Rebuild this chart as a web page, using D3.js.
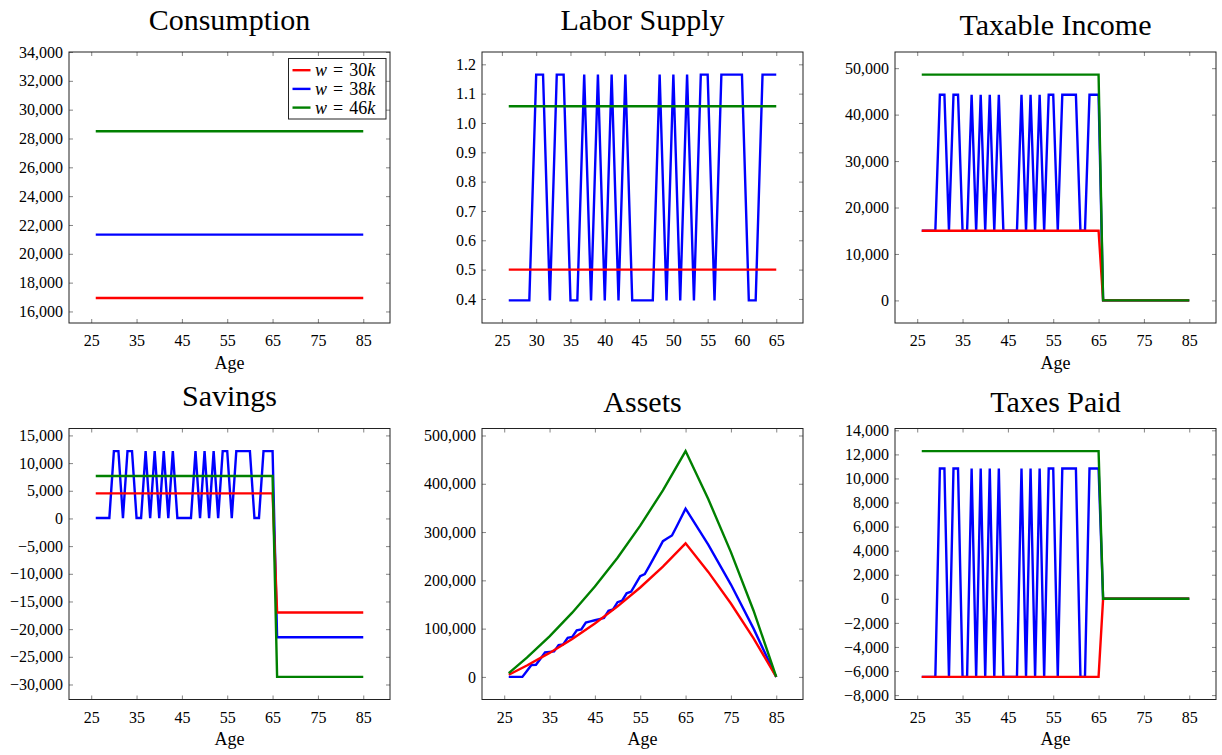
<!DOCTYPE html>
<html>
<head>
<meta charset="utf-8">
<script src="https://cdn.jsdelivr.net/npm/d3@7"></script>
<style>
  body { margin: 0; background: #fff; }
</style>
</head>
<body>
<svg width="1222" height="755"></svg>
<script>
// ---- data ----
var workAges = d3.range(26, 66);            // 26 .. 65
var legendWages = ['30', '38', '46'];
var colors = { red: '#ff0000', blue: '#0000ff', green: '#008000' };
var serif = '"Liberation Serif", "Times New Roman", serif';

var ageTicks = [25, 35, 45, 55, 65, 75, 85];
var laborAgeTicks = [25, 30, 35, 40, 45, 50, 55, 60, 65];

var consTicks = [16000, 18000, 20000, 22000, 24000, 26000, 28000, 30000, 32000, 34000];
var laborTicks = [0.4, 0.5, 0.6, 0.7, 0.8, 0.9, 1.0, 1.1, 1.2];
var incomeTicks = [0, 10000, 20000, 30000, 40000, 50000];
var savingsTicks = [-30000, -25000, -20000, -15000, -10000, -5000, 0, 5000, 10000, 15000];
var assetsTicks = [0, 100000, 200000, 300000, 400000, 500000];
var taxesTicks = [-8000, -6000, -4000, -2000, 0, 2000, 4000, 6000, 8000, 10000, 12000, 14000];

// consumption
var consRed = [[26, 16930], [85, 16930]];
var consBlue = [[26, 21330], [85, 21330]];
var consGreen = [[26, 28500], [85, 28500]];

// labor supply (working years only)
var laborRed = [[26, 0.5], [65, 0.5]];
var laborGreen = [[26, 1.057], [65, 1.057]];
var laborBlue = [
  0.395, 0.395, 0.395, 0.395, 1.165, 1.165, 0.395, 1.165, 1.165, 0.395,
  0.395, 1.165, 0.395, 1.165, 0.395, 1.165, 0.395, 1.165, 0.395, 0.395,
  0.395, 0.395, 1.165, 0.395, 1.165, 0.395, 1.165, 0.395, 1.165, 1.165,
  0.395, 1.165, 1.165, 1.165, 1.165, 0.395, 0.395, 1.165, 1.165, 1.165
];

// taxable income
var incomeRed = [[26, 15000], [65, 15000], [66, 0], [85, 0]];
var incomeGreen = [[26, 48620], [65, 48620], [66, 0], [85, 0]];
var incomeBlue = [
  15010, 15010, 15010, 15010, 44270, 44270, 15010, 44270, 44270, 15010,
  15010, 44270, 15010, 44270, 15010, 44270, 15010, 44270, 15010, 15010,
  15010, 15010, 44270, 15010, 44270, 15010, 44270, 15010, 44270, 44270,
  15010, 44270, 44270, 44270, 44270, 15010, 15010, 44270, 44270, 44270
];
var incomeBlueRetired = [[66, 0], [85, 0]];

// savings
var savingsRed = [[26, 4530], [65, 4530], [66, -17000], [85, -17000]];
var savingsGreen = [[26, 7660], [65, 7660], [66, -28630], [85, -28630]];
var savingsBlue = [
  70, 70, 70, 70, 12170, 12170, 70, 12170, 12170, 70,
  70, 12170, 70, 12170, 70, 12170, 70, 12170, 70, 70,
  70, 70, 12170, 70, 12170, 70, 12170, 70, 12170, 12170,
  70, 12170, 12170, 12170, 12170, 70, 70, 12170, 12170, 12170
];
var savingsBlueRetired = [[66, -21460], [85, -21460]];

// assets
var assetsRed = [[26, 4500], [30, 23600], [35, 49700], [40, 78600], [45, 110600],
  [50, 146000], [55, 185200], [60, 228600], [65, 276600],
  [70, 217500], [75, 152100], [80, 79900], [85, 0]];
var assetsGreen = [[26, 7700], [30, 39900], [35, 84100], [40, 133000], [45, 187100],
  [50, 246900], [55, 313200], [60, 386500], [65, 467700],
  [70, 368400], [75, 258500], [80, 137100], [85, 0]];
var assetsBlue = [
  0, 0, 0, 0, 12170, 24590, 25090, 37770, 50710, 51750,
  52810, 66060, 67410, 80960, 82620, 96480, 98460, 112650, 114960, 117320,
  119720, 122170, 136840, 139650, 154680, 157850, 173260, 176810, 192600, 208720,
  213000, 229540, 246420, 263640, 281210, 286970, 292850, 311020, 329570, 348500
];
var assetsBlueRetired = [[70, 273900], [75, 191300], [80, 100000], [85, 0]];

// taxes paid
var taxesRed = [[26, -6490], [65, -6490], [66, 0], [85, 0]];
var taxesGreen = [[26, 12275], [65, 12275], [66, 0], [85, 0]];
var taxesBlue = [
  -6490, -6490, -6490, -6490, 10830, 10830, -6490, 10830, 10830, -6490,
  -6490, 10830, -6490, 10830, -6490, 10830, -6490, 10830, -6490, -6490,
  -6490, -6490, 10830, -6490, 10830, -6490, 10830, -6490, 10830, 10830,
  -6490, 10830, 10830, 10830, 10830, -6490, -6490, 10830, 10830, 10830
];
var taxesBlueRetired = [[66, 0], [85, 0]];

// ---- layout ----
var svg = d3.select('svg');
var panelW = 321, panelH = 271;
var colX = [69, 482, 895];
var rowY = [52, 428.5];

function zipAges(values, tail) {
  return workAges.map(function (a, i) { return [a, values[i]]; }).concat(tail || []);
}

// pgfplots style: 10% enlarged limits
function enlarge(ext) {
  var pad = (ext[1] - ext[0]) * 0.1;
  return [ext[0] - pad, ext[1] + pad];
}

var fmtThousands = d3.format(',');
var fmtOne = d3.format('.1f');

var panels = [
  { title: 'Consumption', col: 0, row: 0, titleY: 29.5, age: true,
    yTicks: consTicks, yFormat: fmtThousands, yDomain: [15200, 34000], xTicks: ageTicks,
    series: [[consBlue, 'blue'], [consRed, 'red'], [consGreen, 'green']], legend: true },
  { title: 'Labor Supply', col: 1, row: 0, titleY: 29.5, age: false,
    yTicks: laborTicks, yFormat: fmtOne, xTicks: laborAgeTicks,
    series: [[zipAges(laborBlue), 'blue'], [laborRed, 'red'], [laborGreen, 'green']] },
  { title: 'Taxable Income', col: 2, row: 0, titleY: 35, age: true,
    yTicks: incomeTicks, yFormat: fmtThousands, xTicks: ageTicks,
    series: [[zipAges(incomeBlue, incomeBlueRetired), 'blue'], [incomeRed, 'red'], [incomeGreen, 'green']] },
  { title: 'Savings', col: 0, row: 1, titleY: 406, age: true,
    yTicks: savingsTicks, yFormat: fmtThousands, xTicks: ageTicks,
    series: [[zipAges(savingsBlue, savingsBlueRetired), 'blue'], [savingsRed, 'red'], [savingsGreen, 'green']] },
  { title: 'Assets', col: 1, row: 1, titleY: 412, age: true,
    yTicks: assetsTicks, yFormat: fmtThousands, xTicks: ageTicks,
    series: [[zipAges(assetsBlue, assetsBlueRetired), 'blue'], [assetsRed, 'red'], [assetsGreen, 'green']] },
  { title: 'Taxes Paid', col: 2, row: 1, titleY: 412, age: true,
    yTicks: taxesTicks, yFormat: fmtThousands, xTicks: ageTicks,
    series: [[zipAges(taxesBlue, taxesBlueRetired), 'blue'], [taxesRed, 'red'], [taxesGreen, 'green']] }
];

function styleAxis(sel) {
  sel.attr('font-family', serif).attr('font-size', 16);
  sel.select('.domain').remove();
  sel.selectAll('.tick line').attr('stroke', '#666').attr('stroke-width', 0.8);
  sel.selectAll('.tick text').attr('fill', '#000').style('font-family', serif).style('font-size', '16px');
}

panels.forEach(function (p) {
  var px = colX[p.col], py = rowY[p.row];
  var all = [];
  p.series.forEach(function (s) { all = all.concat(s[0]); });

  var x = d3.scaleLinear()
    .domain(enlarge(d3.extent(all, function (d) { return d[0]; })))
    .range([0, panelW]);
  var y = d3.scaleLinear()
    .domain(p.yDomain || enlarge(d3.extent(all, function (d) { return d[1]; })))
    .range([panelH, 0]);

  var g = svg.append('g').attr('transform', 'translate(' + px + ',' + py + ')');

  g.append('g').attr('transform', 'translate(0,' + panelH + ')')
    .call(d3.axisBottom(x).tickValues(p.xTicks).tickSizeInner(-4).tickSizeOuter(0).tickPadding(11.7))
    .call(styleAxis);
  g.append('g')
    .call(d3.axisTop(x).tickValues(p.xTicks).tickSizeInner(-4).tickSizeOuter(0).tickFormat(''))
    .call(styleAxis);
  g.append('g')
    .call(d3.axisLeft(y).tickValues(p.yTicks).tickSizeInner(-4).tickSizeOuter(0).tickPadding(6).tickFormat(p.yFormat))
    .call(styleAxis);
  g.append('g').attr('transform', 'translate(' + panelW + ',0)')
    .call(d3.axisRight(y).tickValues(p.yTicks).tickSizeInner(-4).tickSizeOuter(0).tickFormat(''))
    .call(styleAxis);

  var line = d3.line().x(function (d) { return x(d[0]); }).y(function (d) { return y(d[1]); });
  p.series.forEach(function (s) {
    g.append('path').datum(s[0])
      .attr('d', line)
      .attr('fill', 'none')
      .attr('stroke', colors[s[1]])
      .attr('stroke-width', 2.4);
  });

  g.append('rect')
    .attr('width', panelW).attr('height', panelH)
    .attr('fill', 'none').attr('stroke', '#222').attr('stroke-width', 1);

  svg.append('text')
    .attr('x', px + panelW / 2).attr('y', p.titleY)
    .attr('text-anchor', 'middle')
    .style('font-family', serif)
    .style('font-size', '30px')
    .text(p.title);

  if (p.age) {
    g.append('text')
      .attr('x', panelW / 2).attr('y', panelH + 45.7)
      .attr('text-anchor', 'middle')
      .style('font-family', serif)
      .style('font-size', '18px')
      .text('Age');
  }

  if (p.legend) {
    var lg = g.append('g').attr('transform', 'translate(219.5,6.5)');
    lg.append('rect').attr('width', 97.5).attr('height', 60.5)
      .attr('fill', '#fff').attr('stroke', '#222').attr('stroke-width', 1);
    ['red', 'blue', 'green'].forEach(function (c, i) {
      var ry = 11.7 + i * 18.7;
      lg.append('line').attr('x1', 4).attr('x2', 22).attr('y1', ry).attr('y2', ry)
        .attr('stroke', colors[c]).attr('stroke-width', 2.4);
      var t = lg.append('text').attr('x', 26.5).attr('y', ry + 6)
        .style('font-family', serif).style('font-size', '18px');
      t.append('tspan').style('font-style', 'italic').text('w');
      t.append('tspan').attr('dx', 6).text('=');
      t.append('tspan').attr('dx', 6).text(legendWages[i]);
      t.append('tspan').style('font-style', 'italic').text('k');
    });
  }
});
</script>
</body>
</html>
